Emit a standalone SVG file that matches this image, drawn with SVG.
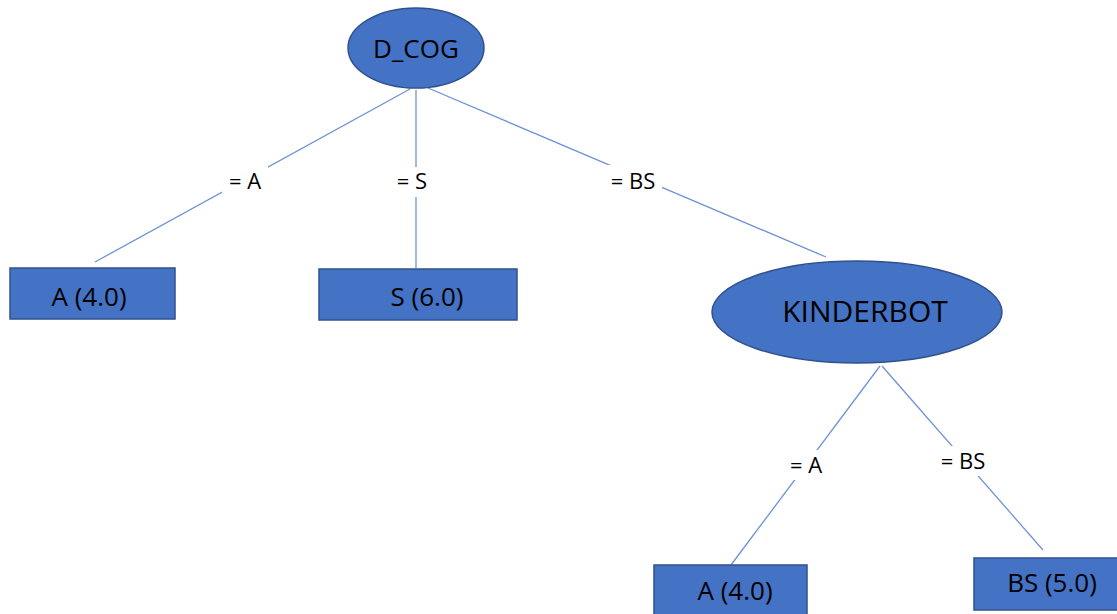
<svg xmlns="http://www.w3.org/2000/svg" width="1117" height="614" viewBox="0 0 1117 614">
  <style>
    .node { fill: #4472C4; stroke: #2F528F; stroke-width: 1.5; }
    .edge { stroke: #6F93D6; stroke-width: 1.3; fill: none; }
    .lblbg { fill: #FFFFFF; }
    text { font-family: "Open Sans", "Liberation Sans", sans-serif; fill: #000000; text-anchor: middle; }
    .big { font-size: 26px; }
    .edgetxt { font-size: 22px; }
  </style>
  <rect width="1117" height="614" fill="#FFFFFF"/>

  <!-- tree edges with their labels -->
  <g id="connectors">
    <line class="edge" x1="410" y1="89" x2="95" y2="262"/>
    <line class="edge" x1="416" y1="90" x2="416" y2="268"/>
    <line class="edge" x1="428" y1="88" x2="826" y2="257"/>
    <line class="edge" x1="880" y1="366" x2="731" y2="565"/>
    <line class="edge" x1="882" y1="366" x2="1043" y2="550"/>

    <rect class="lblbg" x="222" y="166" width="46" height="30"/>
    <text class="edgetxt" x="245" y="189">= A</text>
    <rect class="lblbg" x="392" y="167" width="40" height="30"/>
    <text class="edgetxt" x="412" y="189">= S</text>
    <rect class="lblbg" x="604" y="165" width="58" height="30"/>
    <text class="edgetxt" x="633" y="189">= BS</text>
    <rect class="lblbg" x="782" y="450" width="46" height="30"/>
    <text class="edgetxt" x="806" y="473">= A</text>
    <rect class="lblbg" x="934" y="446" width="58" height="30"/>
    <text class="edgetxt" x="963" y="469">= BS</text>
  </g>

  <g id="node-dcog">
    <ellipse class="node" cx="416" cy="48" rx="68" ry="40"/>
    <text class="big" x="416" y="58">D_COG</text>
  </g>

  <g id="node-a-left">
    <rect class="node" x="10" y="268" width="165" height="51"/>
    <text class="big" x="89" y="306">A (4.0)</text>
  </g>

  <g id="node-s">
    <rect class="node" x="319" y="269" width="198" height="51"/>
    <text class="big" x="427" y="306">S (6.0)</text>
  </g>

  <g id="node-kinderbot">
    <ellipse class="node" cx="857" cy="312" rx="145" ry="51"/>
    <text class="big" x="865" y="322" style="font-size:30px">KINDERBOT</text>
  </g>

  <g id="node-a-bottom">
    <rect class="node" x="654" y="565" width="153" height="52"/>
    <text class="big" x="735" y="600">A (4.0)</text>
  </g>

  <g id="node-bs">
    <rect class="node" x="974" y="558" width="150" height="52"/>
    <text class="big" x="1052" y="592">BS (5.0)</text>
  </g>
</svg>
